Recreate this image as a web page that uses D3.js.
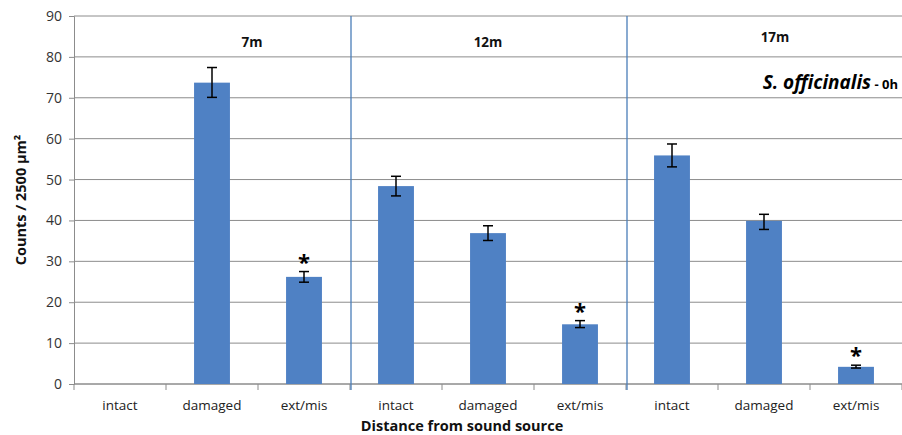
<!DOCTYPE html>
<html>
<head>
<meta charset="utf-8">
<script src="https://cdn.jsdelivr.net/npm/d3@7"></script>
<style>
  body { margin: 0; background: #fff; }
  text { font-family: "Open Sans", Lato, sans-serif; }
</style>
</head>
<body>
<div id="chart"></div>
<script>
// data
var categories = ["intact", "damaged", "ext/mis", "intact", "damaged", "ext/mis", "intact", "damaged", "ext/mis"]
var groups = ["7m", "12m", "17m"]
var values = [0, 73.7, 26.2, 48.4, 36.9, 14.6, 55.9, 39.9, 4.2]
var errUp = [0, 3.7, 1.3, 2.4, 1.8, 0.9, 2.8, 1.6, 0.4]
var errDown = [0, 3.6, 1.3, 2.4, 1.8, 0.8, 2.8, 2.1, 0.3]
var significant = [false, false, true, false, false, true, false, false, true]
var yTicks = [0, 10, 20, 30, 40, 50, 60, 70, 80, 90]

var width = 902
    height = 435
var margin = {top: 16, right: 0, bottom: 51, left: 74}

var svg = d3.select("#chart")
  .append("svg")
    .attr("width", width)
    .attr("height", height)

var x = d3.scaleBand()
  .domain(d3.range(categories.length))
  .range([margin.left, width - margin.right])
  .paddingInner(0.61)
  .paddingOuter(0.305)

var xStep = (width - margin.right - margin.left) / categories.length

var y = d3.scaleLinear()
  .domain([0, 90])
  .range([height - margin.bottom, margin.top])

// gridlines
svg.selectAll("grid")
  .data(yTicks)
  .join("line")
    .attr("x1", margin.left)
    .attr("x2", width - margin.right)
    .attr("y1", function(d){ return y(d) })
    .attr("y2", function(d){ return y(d) })
    .attr("stroke", "#8c8c8c")
    .attr("stroke-width", 1)

// y axis
var yAxis = svg.append("g")
  .attr("transform", "translate(" + margin.left + ",0)")
  .call(d3.axisLeft(y).tickValues(yTicks).tickSize(5).tickPadding(7))
yAxis.selectAll("line, path").attr("stroke", "#8c8c8c")
yAxis.selectAll("text").style("font-size", "14px").attr("fill", "#333")

// x axis (band ticks at boundaries)
var xAxis = svg.append("g")
  .attr("transform", "translate(0," + y(0) + ")")
xAxis.append("line")
  .attr("x1", margin.left).attr("x2", width)
  .attr("stroke", "#8c8c8c")
xAxis.selectAll("tk")
  .data(d3.range(categories.length + 1))
  .join("line")
    .attr("x1", function(i){ return margin.left + i * xStep })
    .attr("x2", function(i){ return margin.left + i * xStep })
    .attr("y1", 0).attr("y2", 6)
    .attr("stroke", "#8c8c8c")
xAxis.selectAll("lbl")
  .data(categories)
  .join("text")
    .attr("x", function(d, i){ return x(i) + x.bandwidth() / 2 })
    .attr("y", 26)
    .attr("text-anchor", "middle")
    .attr("fill", "#222")
    .style("font-size", "13.5px")
    .text(function(d){ return d })

// group separators
svg.selectAll("sep")
  .data([3, 6])
  .join("line")
    .attr("x1", function(i){ return margin.left + i * xStep + 1 })
    .attr("x2", function(i){ return margin.left + i * xStep + 1 })
    .attr("y1", margin.top)
    .attr("y2", y(0) + 6)
    .attr("stroke", "#4a7db8")
    .attr("stroke-width", 1.3)

// group labels
var groupPos = [{x: 252, y: 47}, {x: 488, y: 47}, {x: 775, y: 42}]
svg.selectAll("glbl")
  .data(groups)
  .join("text")
    .attr("x", function(d, i){ return groupPos[i].x })
    .attr("y", function(d, i){ return groupPos[i].y })
    .attr("text-anchor", "middle")
    .style("font-size", "13.5px")
    .style("font-weight", "bold")
    .attr("fill", "#111")
    .text(function(d){ return d })

// bars
svg.selectAll("bars")
  .data(values)
  .join("rect")
    .attr("x", function(d, i){ return x(i) })
    .attr("width", x.bandwidth())
    .attr("y", function(d){ return y(d) })
    .attr("height", function(d){ return y(0) - y(d) })
    .attr("fill", "#4f81c4")

// error bars
var cap = 5
var eb = svg.selectAll("errs")
  .data(values.map(function(v, i){ return {v: v, i: i} }).filter(function(d){ return d.v > 0 }))
  .join("g")
    .attr("stroke", "#000")
    .attr("stroke-width", 1.5)
eb.append("line")
  .attr("x1", function(d){ return x(d.i) + x.bandwidth() / 2 })
  .attr("x2", function(d){ return x(d.i) + x.bandwidth() / 2 })
  .attr("y1", function(d){ return y(d.v + errUp[d.i]) })
  .attr("y2", function(d){ return y(d.v - errDown[d.i]) })
eb.append("line")
  .attr("x1", function(d){ return x(d.i) + x.bandwidth() / 2 - cap })
  .attr("x2", function(d){ return x(d.i) + x.bandwidth() / 2 + cap })
  .attr("y1", function(d){ return y(d.v + errUp[d.i]) })
  .attr("y2", function(d){ return y(d.v + errUp[d.i]) })
eb.append("line")
  .attr("x1", function(d){ return x(d.i) + x.bandwidth() / 2 - cap })
  .attr("x2", function(d){ return x(d.i) + x.bandwidth() / 2 + cap })
  .attr("y1", function(d){ return y(d.v - errDown[d.i]) })
  .attr("y2", function(d){ return y(d.v - errDown[d.i]) })

// significance stars
svg.selectAll("stars")
  .data(values.map(function(v, i){ return {v: v, i: i} }).filter(function(d){ return significant[d.i] }))
  .join("text")
    .attr("x", function(d){ return x(d.i) + x.bandwidth() / 2 })
    .attr("y", function(d){ return y(d.v + errUp[d.i]) - 2 })
    .attr("text-anchor", "middle")
    .style("font-size", "22px")
    .style("font-weight", "bold")
    .attr("fill", "#000")
    .text("*")

// species annotation
var ann = svg.append("text")
  .attr("x", 898)
  .attr("y", 89)
  .attr("text-anchor", "end")
  .attr("fill", "#000")
  .style("font-weight", "bold")
ann.append("tspan").style("font-size", "19px").style("font-style", "italic").text("S. officinalis")
ann.append("tspan").style("font-size", "13px").text(" - 0h")

// axis titles
svg.append("text")
  .attr("transform", "translate(26," + (y(45)) + ") rotate(-90)")
  .attr("text-anchor", "middle")
  .style("font-size", "14.5px")
  .style("font-weight", "bold")
  .attr("fill", "#111")
  .text("Counts / 2500 µm²")

svg.append("text")
  .attr("x", 462)
  .attr("y", 431)
  .attr("text-anchor", "middle")
  .style("font-size", "14.5px")
  .style("font-weight", "bold")
  .attr("fill", "#111")
  .text("Distance from sound source")
</script>
</body>
</html>
